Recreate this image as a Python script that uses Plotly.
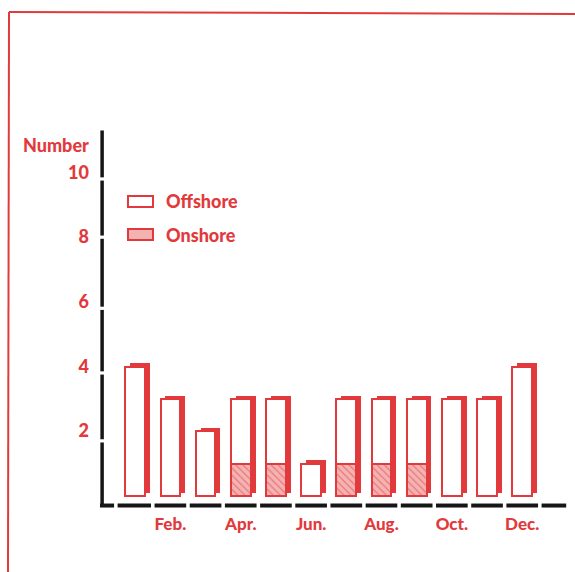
import plotly.graph_objects as go

# Monthly counts, split into offshore and onshore
months = ["Jan.", "Feb.", "Mar.", "Apr.", "May", "Jun.",
          "Jul.", "Aug.", "Sep.", "Oct.", "Nov.", "Dec."]
offshore = [4, 3, 2, 2, 2, 1, 2, 2, 2, 3, 3, 4]
onshore = [0, 0, 0, 1, 1, 0, 1, 1, 1, 0, 0, 0]
tick_months = ["Feb.", "Apr.", "Jun.", "Aug.", "Oct.", "Dec."]
y_ticks = [2, 4, 6, 8, 10]

RED = "#e23a3c"
PINK = "#f4b3b3"
INK = "#161616"
FONT = "Lato"

pos = list(range(len(months)))
totals = [a + b for a, b in zip(offshore, onshore)]
onshore_vis = [v if v > 0 else None for v in onshore]

# plot-area geometry in pixels
L, T, W, H = 100, 124, 475, 388
FIG_W, FIG_H = 575, 572


def xp(px):
    return (px - L) / W


def yp(py):
    return (T + H - py) / H


BW = 0.56          # bar width (x units)
DX, DY = 0.14, 0.1  # extrusion depth for the 3-D look

fig = go.Figure()

# extruded back face (shows as the thick right side and top)
fig.add_trace(go.Bar(
    x=pos, y=totals, base=[DY] * len(pos), width=BW, offset=-BW / 2 + DX,
    marker=dict(color=RED, line=dict(width=0)), showlegend=False,
    hoverinfo="skip"))

# onshore (hatched) front segment
fig.add_trace(go.Bar(
    x=pos, y=onshore_vis, base=[0] * len(pos), width=BW, offset=-BW / 2,
    name="Onshore",
    marker=dict(color=PINK, line=dict(color=RED, width=2),
                pattern=dict(shape="\\", fgcolor=RED, bgcolor=PINK,
                             size=5, solidity=0.25)),
    showlegend=False))

# offshore (open) front segment stacked on top
fig.add_trace(go.Bar(
    x=pos, y=offshore, base=onshore, width=BW, offset=-BW / 2,
    name="Offshore",
    marker=dict(color="white", line=dict(color=RED, width=2)),
    showlegend=False))

shapes = []

# page frame
shapes.append(dict(type="line", xref="paper", yref="paper",
                   x0=xp(9), y0=yp(12), x1=xp(576), y1=yp(14),
                   line=dict(color=RED, width=2)))
shapes.append(dict(type="line", xref="paper", yref="paper",
                   x0=xp(9), y0=yp(12), x1=xp(8), y1=yp(573),
                   line=dict(color=RED, width=2)))

# broken y axis
y_axis_x = -0.94
y_breaks = [11.3, 9.8, 8.0, 5.8, 3.8, 1.7, -0.28]
for top, bot in zip(y_breaks[:-1], y_breaks[1:]):
    shapes.append(dict(type="line", xref="x", yref="y",
                       x0=y_axis_x, x1=y_axis_x,
                       y0=top - (0.05 if top != y_breaks[0] else 0),
                       y1=bot + (0.05 if bot != y_breaks[-1] else 0),
                       line=dict(color=INK, width=3.5)))

# dashed x axis
x_axis_y = -0.3
x_breaks = [-1.09, -0.55] + [i + 0.5 for i in range(12)] + [12.25]
for a, b in zip(x_breaks[:-1], x_breaks[1:]):
    shapes.append(dict(type="line", xref="x", yref="y",
                       x0=a + (0.05 if a != x_breaks[0] else 0),
                       x1=b - (0.05 if b != x_breaks[-1] else 0),
                       y0=x_axis_y, y1=x_axis_y,
                       line=dict(color=INK, width=4)))

# legend swatches
shapes.append(dict(type="rect", xref="paper", yref="paper",
                   x0=xp(128), x1=xp(153), y0=yp(196), y1=yp(207),
                   fillcolor="white", line=dict(color=RED, width=2)))
shapes.append(dict(type="rect", xref="paper", yref="paper",
                   x0=xp(128), x1=xp(153), y0=yp(229), y1=yp(240),
                   fillcolor=PINK, line=dict(color=RED, width=2)))

label_font = dict(family=FONT, size=18, color=RED, weight=900)
annotations = [
    dict(text="Number", xref="paper", yref="paper", x=xp(91), y=yp(145),
         xanchor="right", yanchor="middle", showarrow=False,
         font=label_font),
    dict(text="Offshore", xref="paper", yref="paper", x=xp(164), y=yp(201),
         xanchor="left", yanchor="middle", showarrow=False, font=label_font),
    dict(text="Onshore", xref="paper", yref="paper", x=xp(164), y=yp(235),
         xanchor="left", yanchor="middle", showarrow=False, font=label_font),
]

fig.update_layout(
    width=FIG_W, height=FIG_H,
    margin=dict(l=L, r=FIG_W - L - W, t=T, b=FIG_H - T - H),
    paper_bgcolor="white", plot_bgcolor="white",
    barmode="overlay", bargap=0,
    shapes=shapes, annotations=annotations,
    xaxis=dict(range=[-1, 12.5], showgrid=False, zeroline=False,
               showline=False, ticks="",
               tickvals=[months.index(m) for m in tick_months],
               ticktext=tick_months,
               tickfont=dict(family=FONT, size=17, color=RED, weight=900)),
    yaxis=dict(range=[-0.5, 11.5], showgrid=False, zeroline=False,
               showline=False, ticks="", tickvals=y_ticks,
               ticklabelstandoff=10,
               tickfont=dict(family=FONT, size=18, color=RED, weight=900)),
)

fig.write_html("out.html")
